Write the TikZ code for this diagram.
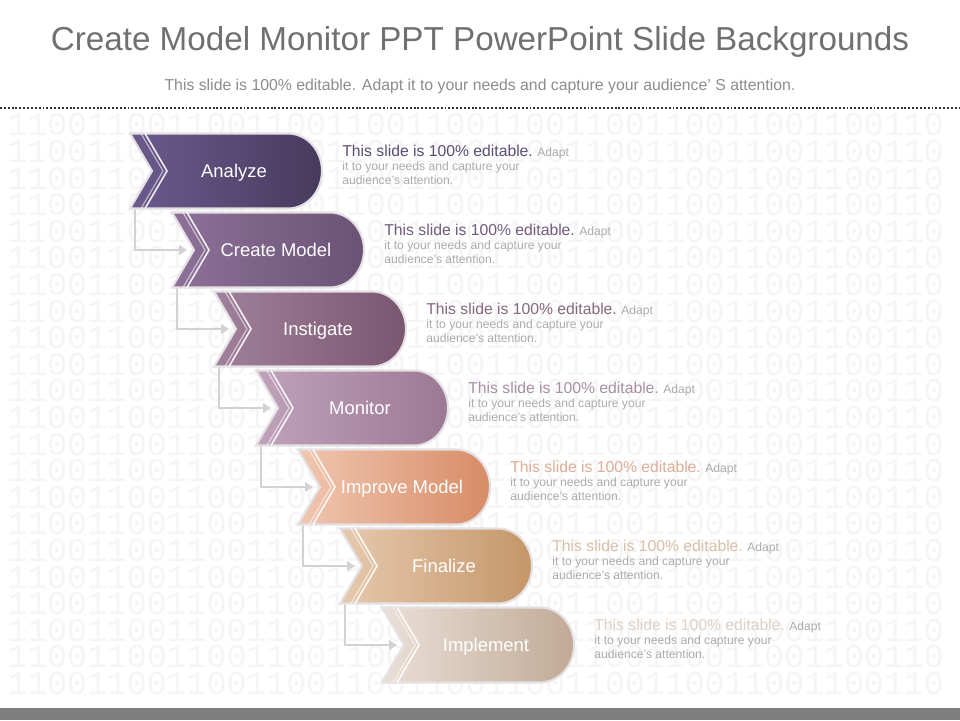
\documentclass[tikz,border=0pt]{standalone}
\usepackage{fontspec}
\setmainfont{Liberation Sans}
\setmonofont{Liberation Mono}
\usetikzlibrary{arrows.meta}

\definecolor{titlegray}{HTML}{707070}
\definecolor{subgray}{HTML}{8C8C8C}
\definecolor{descgray}{HTML}{ABABAB}
\definecolor{bingray}{HTML}{F5F5F5}
\definecolor{linkgray}{HTML}{D2D2D2}
\definecolor{bargray}{HTML}{7F7F7F}
\definecolor{edgegray}{HTML}{E4E0E3}
% step colours: left, right, note heading
\definecolor{anaL}{HTML}{6B5B8E}\definecolor{anaR}{HTML}{463A5C}\definecolor{anaT}{HTML}{5B4D73}
\definecolor{creL}{HTML}{8E7199}\definecolor{creR}{HTML}{6A5275}\definecolor{creT}{HTML}{705B7D}
\definecolor{insL}{HTML}{A0809A}\definecolor{insR}{HTML}{7A5670}\definecolor{insT}{HTML}{85687E}
\definecolor{monL}{HTML}{C0A2BA}\definecolor{monR}{HTML}{9C7894}\definecolor{monT}{HTML}{A88FA3}
\definecolor{impL}{HTML}{F0C6B0}\definecolor{impR}{HTML}{D78C66}\definecolor{impT}{HTML}{DDAE98}
\definecolor{finL}{HTML}{E6C9AE}\definecolor{finR}{HTML}{C49668}\definecolor{finT}{HTML}{D9BFA6}
\definecolor{plaL}{HTML}{EADFD7}\definecolor{plaR}{HTML}{C1AA96}\definecolor{plaT}{HTML}{DDD0C6}

\tikzset{
  binrow/.style={anchor=west, inner sep=0pt, text=bingray, font=\ttfamily\fontsize{18.9}{20}\selectfont},
  steplabel/.style={anchor=base, text=white, inner sep=0pt, font=\fontsize{10.5}{12}\selectfont},
  link/.style={draw=linkgray, line width=1.4pt, -{Triangle[length=4.5pt,width=5.5pt]}},
  desc/.style={anchor=base west, align=left, inner sep=0pt, text=descgray, font=\fontsize{6.9}{8}\selectfont},
}

\begin{document}
\begin{tikzpicture}[x=0.02cm, y=0.02cm]
    % Canvas
    \fill[white] (0,0) rectangle (960,720);
    \useasboundingbox (0,0) rectangle (960,720);

    % Binary background
    \begin{scope}
        \clip (0,12) rectangle (960,611);
        \foreach \k in {0,...,21}
            \node[binrow] (bin\k) at (7,{595-26.6*\k}) {11001100110011001100110011001100110011001100110};
    \end{scope}

    % Heading
    \node[anchor=base, text=titlegray, font=\fontsize{18.9}{22}\selectfont] (title) at (480,669)
        {Create Model Monitor PPT PowerPoint Slide Backgrounds};
    \node[anchor=base, text=subgray, font=\fontsize{9}{11}\selectfont] (subtitle) at (480,629)
        {This slide is 100\% editable. Adapt it to your needs and capture your audience’ S attention.};
    \draw[black!80, line width=1.1pt, dash pattern=on 1.1pt off 1.1pt] (0,612) -- (960,612);

    % Bottom bar
    \fill[bargray] (0,0) rectangle (960,12);

    % Connector ends
    \foreach \i in {0,...,6} {
        \coordinate (tail\i) at ({135+42*\i},{511.5-79*\i});
        \coordinate (head\i) at ({145+42*\i},{549-79*\i});
    }
    \foreach \i [evaluate=\i as \j using int(\i+1)] in {0,...,5}
        \draw[link] (tail\i) |- (head\j);

    % Steps
    \foreach \i/\name/\lcol/\rcol/\tcol in {0/Analyze/anaL/anaR/anaT, 1/Create Model/creL/creR/creT,
        2/Instigate/insL/insR/insT, 3/Monitor/monL/monR/monT, 4/Improve Model/impL/impR/impT,
        5/Finalize/finL/finR/finT, 6/Implement/plaL/plaR/plaT} {
        \pgfmathsetmacro{\x}{130+42*\i}
        \pgfmathsetmacro{\y}{549-79*\i}
        \path[left color=\lcol, right color=\rcol, draw=edgegray, line width=1.2pt]
            (\x,\y+37.5) -- (\x+158,\y+37.5) arc[start angle=90, end angle=-90, x radius=34, y radius=37.5]
            -- (\x,\y-37.5) -- (\x+22,\y) -- cycle;
        \draw[white, opacity=.55, line width=.7pt] (\x+11,\y+37.5) -- (\x+33,\y) -- (\x+11,\y-37.5);
        \draw[white, opacity=.9, line width=.9pt] (\x+15,\y+37.5) -- (\x+37,\y) -- (\x+15,\y-37.5);
        \node[steplabel] (step\i) at (\x+104,\y-6.5) {\name};
        \node[desc] (note\i) at (\x+212,\y-14)
            {{\color{\tcol}\fontsize{8.95}{8}\selectfont This slide is 100\% editable.} Adapt\\
             it to your needs and capture your\\audience's attention.};
    }
\end{tikzpicture}
\end{document}
